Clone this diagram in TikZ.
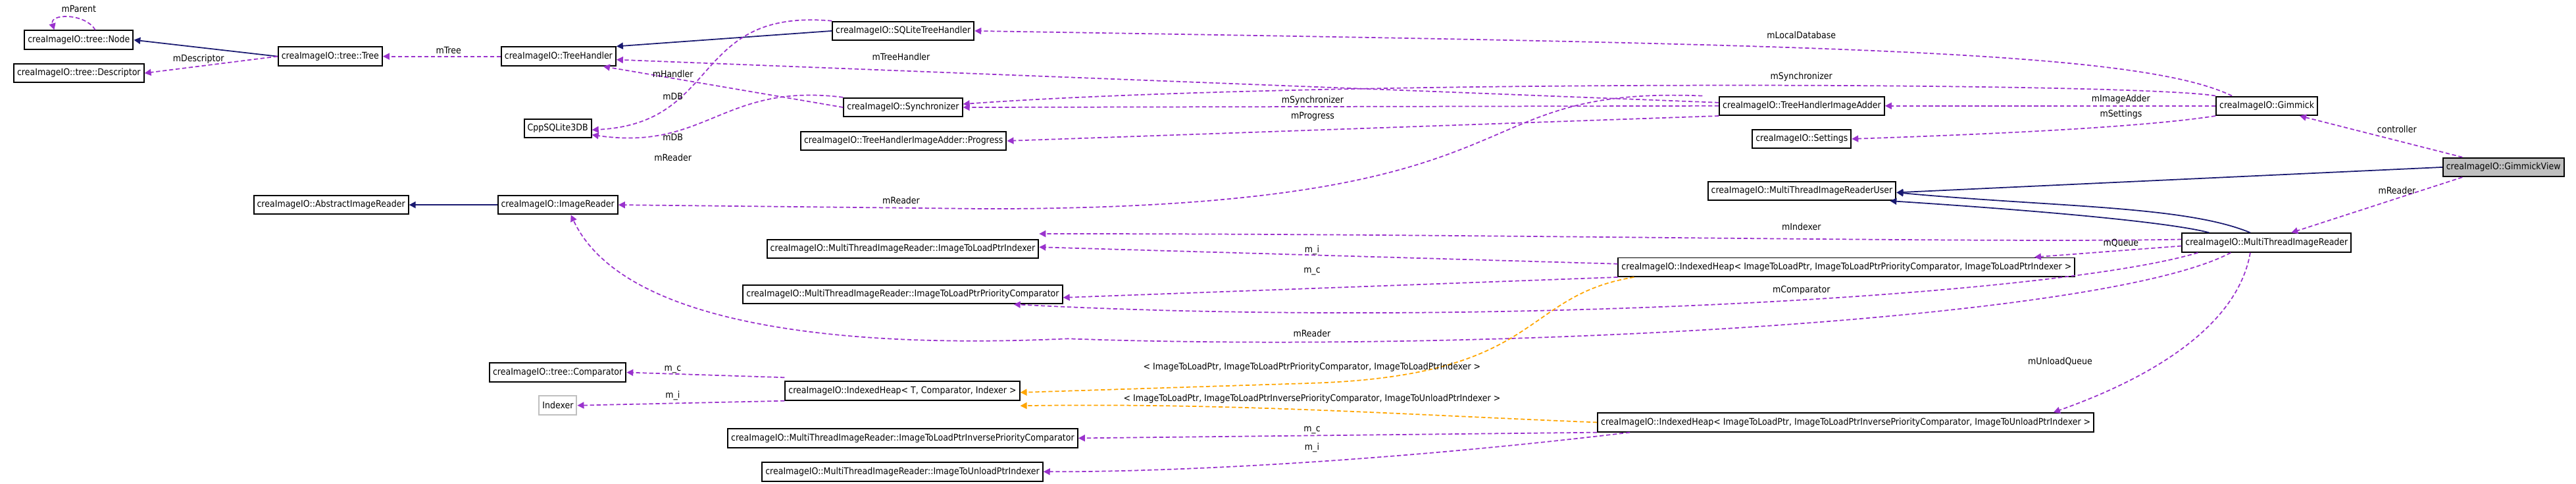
\documentclass[tikz,border=0pt]{standalone}
\usepackage{fontspec}
\setmainfont{DejaVu Sans Condensed}
\usepackage{tikz}
\usetikzlibrary{arrows.meta,positioning,calc}

\definecolor{usecol}{HTML}{9A32CD}
\definecolor{inhcol}{HTML}{191970}
\definecolor{tplcol}{HTML}{FFA500}

\tikzset{
  cls/.style={draw, line width=0.8pt, minimum height=11.4pt, inner xsep=2pt, inner ysep=0pt,
    font=\fontsize{5.6}{6}\selectfont},
  lbl/.style={font=\fontsize{5.6}{6}\selectfont, inner sep=0pt},
  use/.style={usecol, dashed, dash pattern=on 2.5pt off 1.5pt, line width=0.7pt,
    -{Triangle[length=4pt,width=4pt]}},
  inh/.style={inhcol, line width=0.7pt, -{Triangle[length=4pt,width=4pt]}},
  tpl/.style={tplcol, dashed, dash pattern=on 2.5pt off 1.5pt, line width=0.7pt,
    -{Triangle[length=4pt,width=4pt]}},
}

\begin{document}
\begin{tikzpicture}[x=1pt, y=-1pt]
    \useasboundingbox (0,0) rectangle (1568,294);

    % classes
    \node[cls] (node) at (48,24.3) {creaImageIO::tree::Node};
    \node[cls] (desc) at (48,44.5) {creaImageIO::tree::Descriptor};
    \node[cls] (tree) at (201,34.3) {creaImageIO::tree::Tree};
    \node[cls] (th) at (340,34.3) {creaImageIO::TreeHandler};
    \node[cls] (cpp) at (339.5,78) {CppSQLite3DB};
    \node[cls] (air) at (201.5,124.6) {creaImageIO::AbstractImageReader};
    \node[cls] (ir) at (339.5,124.6) {creaImageIO::ImageReader};
    \node[cls] (sqlite) at (549.8,18.8) {creaImageIO::SQLiteTreeHandler};
    \node[cls] (sync) at (549.7,65.3) {creaImageIO::Synchronizer};
    \node[cls] (prog) at (550,85.7) {creaImageIO::TreeHandlerImageAdder::Progress};
    \node[cls] (adder) at (1096.8,64.4) {creaImageIO::TreeHandlerImageAdder};
    \node[cls] (settings) at (1096.7,84.5) {creaImageIO::Settings};
    \node[cls] (gim) at (1379.8,64.4) {creaImageIO::Gimmick};
    \node[cls, fill=black!25] (view) at (1523.8,101.7) {creaImageIO::GimmickView};
    \node[cls] (user) at (1096.8,116.1) {creaImageIO::MultiThreadImageReaderUser};
    \node[cls] (mtir) at (1379.7,147.6) {creaImageIO::MultiThreadImageReader};
    \node[cls] (lidx) at (549.5,151.3) {creaImageIO::MultiThreadImageReader::ImageToLoadPtrIndexer};
    \node[cls] (pcomp) at (549.5,179) {creaImageIO::MultiThreadImageReader::ImageToLoadPtrPriorityComparator};
    \node[cls] (tcomp) at (339.5,226.5) {creaImageIO::tree::Comparator};
    \node[cls, draw=black!25] (indexer) at (339.6,246.6) {Indexer};
    \node[cls] (gheap) at (549.3,237.7) {creaImageIO::IndexedHeap< T, Comparator, Indexer >};
    \node[cls] (icomp) at (549.5,266.5) {creaImageIO::MultiThreadImageReader::ImageToLoadPtrInversePriorityComparator};
    \node[cls] (uidx) at (549.3,286.9) {creaImageIO::MultiThreadImageReader::ImageToUnloadPtrIndexer};
    \node[cls] (uheap) at (1124,162.5) {creaImageIO::IndexedHeap< ImageToLoadPtr, ImageToLoadPtrPriorityComparator, ImageToLoadPtrIndexer >};
    \node[cls] (lheap) at (1123.5,256.9) {creaImageIO::IndexedHeap< ImageToLoadPtr, ImageToLoadPtrInversePriorityComparator, ImageToUnloadPtrIndexer >};

    % inheritance
    \draw[inh] (tree.west) -- (node.east);
    \draw[inh] (sqlite.west) -- (th.north east);
    \draw[inh] (ir.west) -- (air.east);
    \draw[inh] (view.west) -- ([yshift=-1pt]user.east);
    \draw[inh] ([xshift=-10pt]mtir.north) .. controls (1330,125) and (1250,126) .. ([yshift=-1pt]user.east);
    \draw[inh] ([xshift=-35pt]mtir.north) .. controls (1320,135) and (1240,128) .. ([xshift=-4pt]user.south east);

    % members
    \draw[use] ([xshift=10pt]node.north) .. controls (52,8) and (30,8) .. ([xshift=-15pt]node.north);
    \draw[use] (tree.west) -- (desc.east);
    \draw[use] (th.west) -- (tree.east);
    \draw[use] (sqlite.north west) .. controls (420,5) and (440,75) .. ([yshift=-1pt]cpp.east);
    \draw[use] (sync.west) -- ([xshift=-8pt]th.south east);
    \draw[use] (sync.north west) .. controls (440,50) and (430,92) .. ([yshift=-4pt]cpp.east);
    \draw[use] ([xshift=-10pt]adder.north west) .. controls (880,52) and (950,127) .. (600,127) -- (ir.east);
    \draw[use] ([yshift=2pt]adder.west) -- ([yshift=-2pt]th.east);
    \draw[use] (adder.west) -- (sync.east);
    \draw[use] (adder.south west) -- (prog.east);
    \draw[use] ([xshift=10pt]gim.north west) .. controls (1300,30) and (1100,27) .. (sqlite.east);
    \draw[use] (gim.north west) .. controls (1300,50) and (800,48) .. ([yshift=2pt]sync.east);
    \draw[use] (gim.west) -- (adder.east);
    \draw[use] (gim.south west) .. controls (1300,78) and (1200,82) .. (settings.east);
    \draw[use] ([xshift=-25pt]view.north) -- ([xshift=20pt]gim.south);
    \draw[use] ([xshift=-25pt]view.south) -- ([xshift=15pt]mtir.north);
    \draw[use] ([yshift=2pt]mtir.west) .. controls (1200,148) and (900,142) .. ([yshift=3pt]lidx.north east);
    \draw[use] ([yshift=-2pt]mtir.west) -- ([xshift=-25pt]uheap.north east);
    \draw[use] ([xshift=10pt]mtir.south west) .. controls (1250,180) and (900,200) .. ([xshift=-30pt]pcomp.south east);
    \draw[use] ([xshift=30pt]mtir.south west) .. controls (1280,195) and (900,215) .. (650,206)
      .. controls (520,212) and (380,200) .. ([xshift=8pt]ir.south);
    \draw[use] ([xshift=-10pt]mtir.south) .. controls (1360,210) and (1280,240) .. ([xshift=-25pt]lheap.north east);
    \draw[use] ([yshift=2pt]uheap.west) -- ([yshift=1pt]lidx.east);
    \draw[use] (uheap.south west) -- ([yshift=-2pt]pcomp.east);
    \draw[use] (lheap.south west) -- (icomp.east);
    \draw[use] ([xshift=20pt]lheap.south west) .. controls (850,280) and (720,287) .. (uidx.east);
    \draw[use] ([yshift=2pt]gheap.north west) -- (tcomp.east);
    \draw[use] (gheap.south west) -- (indexer.east);

    % template instances
    \draw[tpl] ([xshift=10pt]uheap.south west) .. controls (925,180) and (940,228) .. (800,233) -- ([yshift=-1pt]gheap.east);
    \draw[tpl] (lheap.west) .. controls (850,252) and (750,245) .. ([yshift=-3pt]gheap.south east);

    % labels
    \node[lbl] (lparent) at (48,5.5) {mParent};
    \node[lbl] (ldesc) at (120.8,35.8) {mDescriptor};
    \node[lbl] (ltree) at (273,30.5) {mTree};
    \node[lbl] (lhandler) at (409.6,45) {mHandler};
    \node[lbl] (ldb1) at (409.6,58.5) {mDB};
    \node[lbl] (ldb2) at (409.6,83.4) {mDB};
    \node[lbl] (lread1) at (409.6,96) {mReader};
    \node[lbl] (lth) at (548.5,34.7) {mTreeHandler};
    \node[lbl] (lsync1) at (799,61) {mSynchronizer};
    \node[lbl] (lprog) at (799,70.8) {mProgress};
    \node[lbl] (lread2) at (548.5,121.8) {mReader};
    \node[lbl] (lloc) at (1096.5,21.4) {mLocalDatabase};
    \node[lbl] (lsync2) at (1096.5,46.6) {mSynchronizer};
    \node[lbl] (ladder) at (1291,60.2) {mImageAdder};
    \node[lbl] (lset) at (1291,69.4) {mSettings};
    \node[lbl] (lctrl) at (1459,78.6) {controller};
    \node[lbl] (lread3) at (1459,115.8) {mReader};
    \node[lbl] (lidxr) at (1096.5,137.9) {mIndexer};
    \node[lbl] (lqueue) at (1291,148) {mQueue};
    \node[lbl] (li1) at (798.6,152) {m\_i};
    \node[lbl] (lc1) at (798.6,165.3) {m\_c};
    \node[lbl] (lcomp) at (1096.5,176.5) {mComparator};
    \node[lbl] (lread4) at (798.6,202.7) {mReader};
    \node[lbl] (lt1) at (798.6,223.2) {< ImageToLoadPtr, ImageToLoadPtrPriorityComparator, ImageToLoadPtrIndexer >};
    \node[lbl] (lt2) at (798.6,242.5) {< ImageToLoadPtr, ImageToLoadPtrInversePriorityComparator, ImageToUnloadPtrIndexer >};
    \node[lbl] (lc2) at (798.6,261.5) {m\_c};
    \node[lbl] (li2) at (798.6,272.3) {m\_i};
    \node[lbl] (lc3) at (409.5,224.9) {m\_c};
    \node[lbl] (li3) at (409.5,240.5) {m\_i};
    \node[lbl] (lunload) at (1254,220) {mUnloadQueue};
\end{tikzpicture}
\end{document}
